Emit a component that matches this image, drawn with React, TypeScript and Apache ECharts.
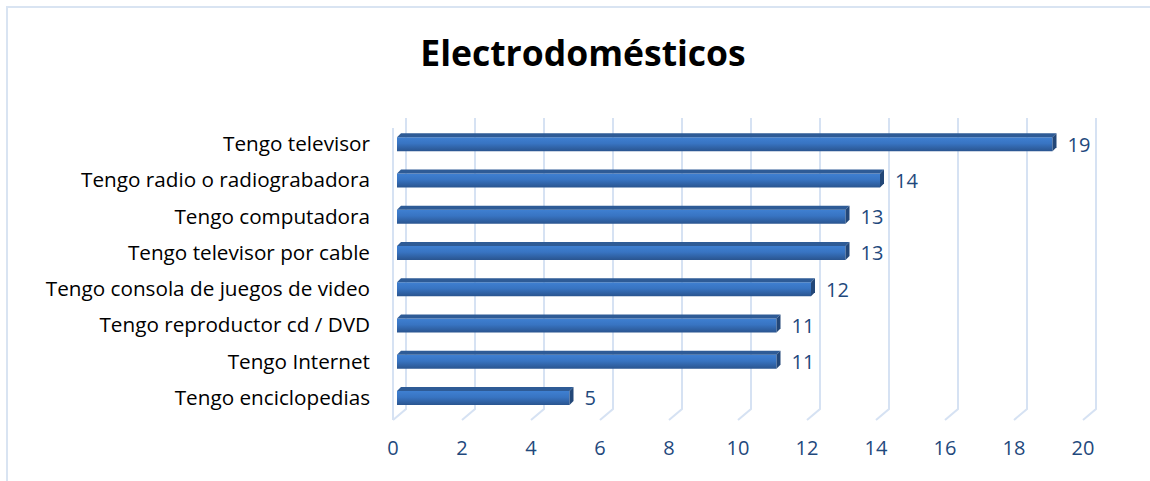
import React, { useEffect, useRef } from "react";
import * as echarts from "echarts";

const categories = [
  "Tengo televisor",
  "Tengo radio o radiograbadora",
  "Tengo computadora",
  "Tengo televisor por cable",
  "Tengo consola de juegos de video",
  "Tengo reproductor cd / DVD",
  "Tengo Internet",
  "Tengo enciclopedias",
];
const values = [19, 14, 13, 13, 12, 11, 11, 5];
const tickValues = [0, 2, 4, 6, 8, 10, 12, 14, 16, 18, 20];
const chartTitle = "Electrodomésticos";

const FONT = "'Open Sans', Lato, sans-serif";
const BLUE_TEXT = "#1F497D";
const GRID_COLOR = "#d6e2f3";

export default function App() {
  const ref = useRef<HTMLDivElement>(null);
  useEffect(() => {
    if (!ref.current) return;
    const chart = echarts.init(ref.current, undefined, { renderer: "svg" });
    const option: any = {
      animation: false,
      backgroundColor: "#ffffff",
      title: {
        text: chartTitle,
        left: 578,
        top: 29,
        textAlign: "center",
        textStyle: { fontFamily: FONT, fontSize: 35.5, fontWeight: "bold", color: "#000" },
      },
      graphic: [
        {
          type: "rect",
          shape: { x: 7, y: 7, width: 1300, height: 700 },
          style: { fill: "none", stroke: "#d9e4f2", lineWidth: 2 },
          silent: true,
        },
      ],
      grid: { left: 397, top: 125, width: 690, height: 290, containLabel: false },
      xAxis: {
        type: "value",
        min: 0,
        max: 20,
        interval: 2,
        axisLine: { show: false },
        axisTick: { show: false },
        splitLine: { show: false },
        axisLabel: {
          color: BLUE_TEXT,
          fontFamily: FONT,
          fontSize: 20,
          margin: 22,
          padding: [0, 8, 0, 0],
        },
      },
      yAxis: {
        type: "category",
        inverse: true,
        data: categories,
        axisLine: { show: false },
        axisTick: { show: false },
        splitLine: { show: false },
        axisLabel: { color: "#000", fontFamily: FONT, fontSize: 20.7, margin: 27 },
      },
      series: [
        {
          type: "custom",
          z: 1,
          silent: true,
          data: tickValues.map((v) => [v, 0]),
          encode: { x: 0, y: 1 },
          renderItem: (params: any, api: any) => {
            const v = api.value(0);
            const p = api.coord([v, 0]);
            const cs = params.coordSys;
            const top = cs.y - 7;
            const bot = cs.y + cs.height - 6;
            const children: any[] = [
              {
                type: "polyline",
                shape: {
                  points: [
                    [p[0] + 9, top],
                    [p[0] + 9, bot],
                    [p[0] - 4, bot + 11],
                  ],
                },
                style: { stroke: GRID_COLOR, lineWidth: 2, fill: "none" },
              },
            ];
            if (params.dataIndex === 0) {
              children.push({
                type: "line",
                shape: { x1: p[0] - 4, y1: top + 10, x2: p[0] - 4, y2: bot + 11 },
                style: { stroke: GRID_COLOR, lineWidth: 2 },
              });
            }
            return { type: "group", children };
          },
        },
        {
          type: "custom",
          z: 2,
          data: values.map((v, i) => [v, i]),
          encode: { x: 0, y: 1 },
          renderItem: (params: any, api: any) => {
            const v = api.value(0);
            const i = api.value(1);
            const s = api.coord([0, i]);
            const e = api.coord([v, i]);
            const x0 = s[0];
            const x1 = e[0];
            const cy = s[1];
            const yt = cy - 6;
            const yb = cy + 8;
            const d = 4;
            return {
              type: "group",
              children: [
                {
                  type: "rect",
                  shape: { x: x0, y: yt, width: x1 - x0, height: yb - yt },
                  style: {
                    fill: new echarts.graphic.LinearGradient(0, 0, 0, 1, [
                      { offset: 0, color: "#3f80d2" },
                      { offset: 0.45, color: "#3874c2" },
                      { offset: 1, color: "#2a5590" },
                    ]),
                  },
                },
                {
                  type: "polygon",
                  shape: {
                    points: [
                      [x0, yt],
                      [x0 + d, yt - d],
                      [x1 + d, yt - d],
                      [x1, yt],
                    ],
                  },
                  style: { fill: "#2e5b96" },
                },
                {
                  type: "polygon",
                  shape: {
                    points: [
                      [x1, yt],
                      [x1 + d, yt - d],
                      [x1 + d, yb - d],
                      [x1, yb],
                    ],
                  },
                  style: { fill: "#234778" },
                },
                {
                  type: "text",
                  x: x1 + 15,
                  y: cy + 1,
                  style: {
                    text: String(v),
                    fill: BLUE_TEXT,
                    font: `20px ${FONT}`,
                    textAlign: "left",
                    textVerticalAlign: "middle",
                  },
                },
              ],
            };
          },
        },
      ],
    };
    chart.setOption(option);
    return () => chart.dispose();
  }, []);
  return (
    <div
      ref={ref}
      style={{ position: "fixed", left: 0, top: 0, width: 1150, height: 481 }}
    />
  );
}
